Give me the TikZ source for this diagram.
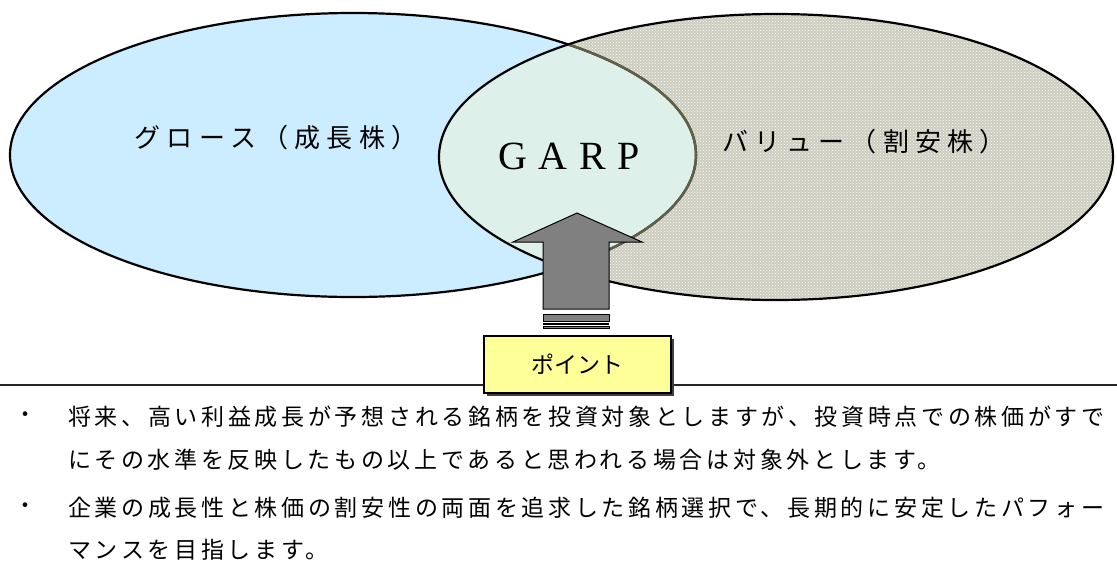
\documentclass[tikz,border=0pt]{standalone}
\usepackage{fontspec}
\setmainfont{Liberation Serif}
\newfontfamily\jp{Noto Sans CJK JP}
\newfontfamily\jpbody[LetterSpace=16]{Noto Sans CJK JP}
\newfontfamily\jplabel[LetterSpace=24]{Noto Sans CJK JP}
\newfontfamily\garpfont[LetterSpace=29]{Liberation Serif}
\usetikzlibrary{patterns}
\definecolor{growth}{RGB}{204,236,255}
\definecolor{garpc}{RGB}{221,240,233}
\definecolor{valuebg}{RGB}{204,204,190}
\definecolor{olivec}{RGB}{96,96,72}
\definecolor{arrowgray}{RGB}{128,128,128}
\definecolor{pointyellow}{RGB}{255,255,153}
\tikzset{
  outline/.style={line width=2.2pt, black},
  label/.style={font=\jplabel\fontsize{26}{30}\selectfont, inner sep=0pt},
  body/.style={font=\jpbody\fontsize{23}{27}\selectfont, inner sep=0pt, anchor=west},
  bullet/.style={font=\jp\fontsize{22}{26}\selectfont, inner sep=0pt},
  arrowpart/.style={fill=arrowgray, draw=black, line width=1pt},
}
\begin{document}
\begin{tikzpicture}[x=1pt,y=-1pt]
\useasboundingbox (0,0) rectangle (1117,566);
\fill[white] (0,0) rectangle (1117,566);
% ellipses
\fill[growth] (353,155) ellipse [x radius=343pt, y radius=142pt];
\fill[valuebg] (776,157) ellipse [x radius=337pt, y radius=143pt];
\fill[pattern=crosshatch dots, pattern color=white] (776,157) ellipse [x radius=337pt, y radius=143pt];
\begin{scope}
  \clip (353,155) ellipse [x radius=343pt, y radius=142pt];
  \fill[garpc] (776,157) ellipse [x radius=337pt, y radius=143pt];
\end{scope}
\draw[outline] (353,155) ellipse [x radius=343pt, y radius=142pt];
\begin{scope}
  \clip (776,157) ellipse [x radius=337pt, y radius=143pt];
  \draw[line width=2.5pt, olivec] (353,155) ellipse [x radius=343pt, y radius=142pt];
\end{scope}
\draw[outline] (776,157) ellipse [x radius=337pt, y radius=143pt];
% labels
\node[label] (growthlabel) at (276,138) {グロース（成長株）};
\node[label] (valuelabel) at (864,142) {バリュー（割安株）};
\node[font=\garpfont\fontsize{40}{44}\selectfont, inner sep=0pt] (garp) at (569,156) {GARP};
% arrow
\draw[arrowpart] (577,213) -- (642,242) -- (609,242) -- (609,309) -- (543,309) -- (543,242) -- (513,242) -- cycle;
\draw[arrowpart] (543,314) rectangle (609,321);
\fill[black] (543,322.5) rectangle (609,325);
\draw[arrowpart] (543,326) rectangle (609,328.5);
% rule
\draw[line width=1.8pt, black!85] (0,385) -- (1117,385);
% point box
\fill[black!75] (487,339) rectangle (674,396);
\node[draw=black, line width=1.2pt, fill=pointyellow, minimum width=187pt, minimum height=57pt, inner sep=0pt,
      font=\jp\fontsize{23}{27}\selectfont] (point) at (577.5,364.5) {ポイント};
% body text
\node[bullet] (b1) at (25,417) {・};
\node[body] (t1) at (68,417) {将来、高い利益成長が予想される銘柄を投資対象としますが、投資時点での株価がすで};
\node[body] (t2) at (68,460) {にその水準を反映したもの以上であると思われる場合は対象外とします。};
\node[bullet] (b2) at (25,508) {・};
\node[body] (t3) at (68,508) {企業の成長性と株価の割安性の両面を追求した銘柄選択で、長期的に安定したパフォー};
\node[body] (t4) at (68,550) {マンスを目指します。};
\end{tikzpicture}
\end{document}
